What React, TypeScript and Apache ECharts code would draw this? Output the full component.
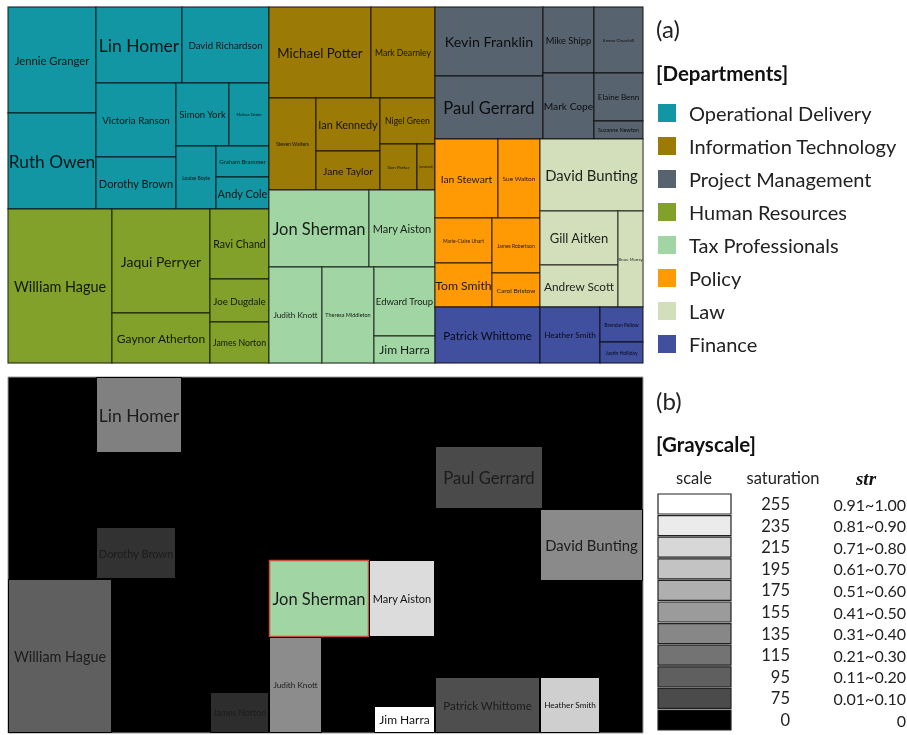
import React, { useEffect, useRef } from "react";
import * as echarts from "echarts";

// ---------- data ----------
const departments = [
  "Operational Delivery",
  "Information Technology",
  "Project Management",
  "Human Resources",
  "Tax Professionals",
  "Policy",
  "Law",
  "Finance",
];
const departmentColors = ["#1396A3", "#9B7A05", "#57636E", "#81A12A", "#A1D5A3", "#FF9A05", "#D3DEBB", "#414F9F"];

// treemap cells: [name, x0, y0, x1, y1] in treemap units
const operationalDelivery: [string, number, number, number, number][] = [
  ["Jennie Granger", 8, 7, 96, 113],
  ["Ruth Owen", 8, 113, 96, 209],
  ["Lin Homer", 96, 7, 182, 83],
  ["David Richardson", 182, 7, 269, 83],
  ["Victoria Ranson", 96, 83, 176, 157],
  ["Dorothy Brown", 96, 157, 176, 209],
  ["Simon York", 176, 83, 229, 146],
  ["Melissa Tatton", 229, 83, 269, 146],
  ["Louise Boyle", 176, 146, 216, 209],
  ["Graham Brammer", 216, 146, 269, 177],
  ["Andy Cole", 216, 177, 269, 209],
];
const informationTechnology: [string, number, number, number, number][] = [
  ["Michael Potter", 269, 7, 371, 98],
  ["Mark Dearnley", 371, 7, 435, 98],
  ["Steven Walters", 269, 98, 316, 190],
  ["Ian Kennedy", 316, 98, 380, 151],
  ["Jane Taylor", 316, 151, 380, 190],
  ["Nigel Green", 380, 98, 435, 144],
  ["Sam Parker", 380, 144, 417, 190],
  ["(unnamed)", 417, 144, 435, 190],
];
const projectManagement: [string, number, number, number, number][] = [
  ["Kevin Franklin", 435, 7, 543, 76],
  ["Paul Gerrard", 435, 76, 543, 139],
  ["Mike Shipp", 543, 7, 594, 73],
  ["Mark Cope", 543, 73, 594, 139],
  ["Emma Churchill", 594, 7, 643, 73],
  ["Elaine Benn", 594, 73, 643, 121],
  ["Suzanne Newton", 594, 121, 643, 139],
];
const humanResources: [string, number, number, number, number][] = [
  ["William Hague", 8, 209, 112, 363],
  ["Jaqui Perryer", 112, 209, 210, 313],
  ["Gaynor Atherton", 112, 313, 210, 363],
  ["Ravi Chand", 210, 209, 269, 279],
  ["Joe Dugdale", 210, 279, 269, 322],
  ["James Norton", 210, 322, 269, 363],
];
const taxProfessionals: [string, number, number, number, number][] = [
  ["Jon Sherman", 269, 190, 369, 267],
  ["Mary Aiston", 369, 190, 435, 267],
  ["Judith Knott", 269, 267, 322, 363],
  ["Theresa Middleton", 322, 267, 374, 363],
  ["Edward Troup", 374, 267, 435, 336],
  ["Jim Harra", 374, 336, 435, 363],
];
const policy: [string, number, number, number, number][] = [
  ["Ian Stewart", 435, 139, 498, 218],
  ["Sue Walton", 498, 139, 540, 218],
  ["Marie-Claire Uhart", 435, 218, 492, 263],
  ["Tom Smith", 435, 263, 492, 307],
  ["James Robertson", 492, 218, 540, 273],
  ["Carol Bristow", 492, 273, 540, 307],
];
const law: [string, number, number, number, number][] = [
  ["David Bunting", 540, 139, 643, 211],
  ["Gill Aitken", 540, 211, 618, 265],
  ["Andrew Scott", 540, 265, 618, 307],
  ["Bruce Murray", 618, 211, 643, 307],
];
const finance: [string, number, number, number, number][] = [
  ["Patrick Whittome", 435, 307, 540, 363],
  ["Heather Smith", 540, 307, 600, 363],
  ["Brendan Pellow", 600, 307, 643, 342],
  ["Justin Holliday", 600, 342, 643, 363],
];
const cellsByDepartment = [
  operationalDelivery,
  informationTechnology,
  projectManagement,
  humanResources,
  taxProfessionals,
  policy,
  law,
  finance,
];

// panel (b): grayscale saturation of related people
const grayNames = [
  "Lin Homer",
  "Dorothy Brown",
  "William Hague",
  "James Norton",
  "Judith Knott",
  "Mary Aiston",
  "Jim Harra",
  "Paul Gerrard",
  "David Bunting",
  "Patrick Whittome",
  "Heather Smith",
];
const grayValues = [128, 50, 95, 45, 140, 220, 255, 74, 138, 78, 207];
const selectedName = "Jon Sherman";

const saturationLevels = [255, 235, 215, 195, 175, 155, 135, 115, 95, 75, 0];
const strRanges = [
  "0.91~1.00",
  "0.81~0.90",
  "0.71~0.80",
  "0.61~0.70",
  "0.51~0.60",
  "0.41~0.50",
  "0.31~0.40",
  "0.21~0.30",
  "0.11~0.20",
  "0.01~0.10",
  "0",
];

// ---------- styles ----------
const labelSize: Record<string, number> = {
  "Jennie Granger": 11.3, "Ruth Owen": 17.3, "Lin Homer": 17.5, "David Richardson": 9.7,
  "Victoria Ranson": 9.8, "Dorothy Brown": 11, "Simon York": 9.5, "Melissa Tatton": 4,
  "Louise Boyle": 5, "Graham Brammer": 6, "Andy Cole": 11,
  "Michael Potter": 13.3, "Mark Dearnley": 8.6, "Steven Walters": 5, "Ian Kennedy": 10.9,
  "Jane Taylor": 10.3, "Nigel Green": 8.6, "Sam Parker": 4.5, "(unnamed)": 3,
  "Kevin Franklin": 14.3, "Paul Gerrard": 16.6, "Mike Shipp": 9.3, "Mark Cope": 10.2,
  "Emma Churchill": 4.5, "Elaine Benn": 8, "Suzanne Newton": 5.5,
  "William Hague": 14.4, "Jaqui Perryer": 14, "Gaynor Atherton": 12, "Ravi Chand": 10.6,
  "Joe Dugdale": 9.7, "James Norton": 8.7,
  "Jon Sherman": 16.5, "Mary Aiston": 11, "Judith Knott": 8.2, "Theresa Middleton": 5.5,
  "Edward Troup": 9.5, "Jim Harra": 12,
  "Ian Stewart": 10.4, "Sue Walton": 6.5, "Marie-Claire Uhart": 5, "Tom Smith": 12.2,
  "James Robertson": 5, "Carol Bristow": 6.5,
  "David Bunting": 14.8, "Gill Aitken": 13, "Andrew Scott": 11.8, "Bruce Murray": 4,
  "Patrick Whittome": 11.5, "Heather Smith": 8.2, "Brendan Pellow": 5, "Justin Holliday": 5,
};
const FONT = "Lato, 'Open Sans', sans-serif";

export default function App() {
  const ref = useRef<HTMLDivElement>(null);

  useEffect(() => {
    const chart = echarts.init(ref.current!, undefined, { renderer: "svg" });

    const series: any[] = departments.map((dep, d) => {
      const cells = cellsByDepartment[d];
      return {
        type: "custom",
        name: dep,
        xAxisIndex: 0,
        yAxisIndex: 0,
        silent: true,
        itemStyle: { color: departmentColors[d] },
        encode: { x: [0, 2], y: [1, 3] },
        data: cells.map((c) => ({ name: c[0], value: [c[1], c[2], c[3], c[4]] })),
        renderItem: (params: any, api: any) => {
          const name = cells[params.dataIndex][0];
          const p0 = api.coord([api.value(0), api.value(1)]);
          const p1 = api.coord([api.value(2), api.value(3)]);
          return {
            type: "group",
            children: [
              {
                type: "rect",
                shape: { x: p0[0], y: p0[1], width: p1[0] - p0[0], height: p1[1] - p0[1] },
                style: { fill: departmentColors[d], stroke: "rgba(0,0,0,0.55)", lineWidth: 1.4 },
              },
              {
                type: "text",
                style: {
                  x: (p0[0] + p1[0]) / 2,
                  y: (p0[1] + p1[1]) / 2,
                  text: name,
                  align: "center",
                  verticalAlign: "middle",
                  fontSize: labelSize[name] ?? 10,
                  fontFamily: FONT,
                  fill: "rgba(0,0,0,0.86)",
                },
              },
            ],
          };
        },
      };
    });

    const grayOf: Record<string, number> = {};
    grayNames.forEach((n, i) => (grayOf[n] = grayValues[i]));
    const allCells = cellsByDepartment.flat();
    const bCells = allCells.filter((c) => grayOf[c[0]] !== undefined || c[0] === selectedName);
    const taxColor = departmentColors[departments.indexOf("Tax Professionals")];

    series.push({
      type: "custom",
      name: "grayscale",
      xAxisIndex: 1,
      yAxisIndex: 1,
      silent: true,
      encode: { x: [0, 2], y: [1, 3] },
      data: bCells.map((c) => ({ name: c[0], value: [c[1], c[2], c[3], c[4]] })),
      renderItem: (params: any, api: any) => {
        const name = bCells[params.dataIndex][0];
        const p0 = api.coord([api.value(0), api.value(1)]);
        const p1 = api.coord([api.value(2), api.value(3)]);
        const sel = name === selectedName;
        const v = grayOf[name] ?? 0;
        return {
          type: "group",
          children: [
            {
              type: "rect",
              shape: { x: p0[0] + 0.5, y: p0[1] + 0.5, width: p1[0] - p0[0] - 1, height: p1[1] - p0[1] - 1 },
              style: {
                fill: sel ? taxColor : `rgb(${v},${v},${v})`,
                stroke: sel ? "#C8503F" : "#000",
                lineWidth: sel ? 1.5 : 1,
              },
            },
            {
              type: "text",
              style: {
                x: (p0[0] + p1[0]) / 2,
                y: (p0[1] + p1[1]) / 2,
                text: name,
                align: "center",
                verticalAlign: "middle",
                fontSize: labelSize[name] ?? 10,
                fontFamily: FONT,
                fill: v > 200 ? "#111" : "#1c1c1c",
              },
            },
          ],
        };
      },
    });

    const graphics: any[] = [
      { type: "text", left: 656, top: 16, style: { text: "(a)", fontSize: 24, fontFamily: FONT, fill: "#222" } },
      { type: "text", left: 656, top: 62, style: { text: "[Departments]", fontSize: 20.5, fontWeight: "bold", fontFamily: FONT, fill: "#111" } },
      { type: "text", left: 656, top: 388, style: { text: "(b)", fontSize: 24, fontFamily: FONT, fill: "#222" } },
      { type: "text", left: 656, top: 433, style: { text: "[Grayscale]", fontSize: 20.5, fontWeight: "bold", fontFamily: FONT, fill: "#111" } },
      { type: "text", x: 694, y: 478, style: { text: "scale", fontSize: 16.5, fontFamily: FONT, fill: "#222", align: "center", verticalAlign: "middle" } },
      { type: "text", x: 783, y: 478, style: { text: "saturation", fontSize: 16.5, fontFamily: FONT, fill: "#222", align: "center", verticalAlign: "middle" } },
      { type: "text", x: 866, y: 478, style: { text: "str", fontSize: 19, fontWeight: "bold", fontStyle: "italic", fontFamily: "'Liberation Serif', 'DejaVu Serif', serif", fill: "#111", align: "center", verticalAlign: "middle" } },
    ];
    saturationLevels.forEach((v, i) => {
      const top = 494 + i * 21.6;
      graphics.push({
        type: "rect",
        shape: { x: 658, y: top, width: 73, height: 20 },
        style: { fill: `rgb(${v},${v},${v})`, stroke: "#222", lineWidth: 1.2 },
      });
      graphics.push({
        type: "text", x: 790, y: top + 10,
        style: { text: String(v), fontSize: 16.5, fontFamily: FONT, fill: "#222", align: "right", verticalAlign: "middle" },
      });
      graphics.push({
        type: "text", x: 906, y: top + 10,
        style: { text: strRanges[i], fontSize: 16, fontFamily: FONT, fill: "#222", align: "right", verticalAlign: "middle" },
      });
    });

    chart.setOption({
      animation: false,
      grid: [
        { left: 8, top: 7, width: 635, height: 356, show: true, borderColor: "#c4c4c4", borderWidth: 1, backgroundColor: "transparent" },
        { left: 8, top: 377, width: 635, height: 356, show: true, borderColor: "#9a9a9a", borderWidth: 1, backgroundColor: "#000" },
      ],
      xAxis: [
        { type: "value", gridIndex: 0, min: 8, max: 643, show: false },
        { type: "value", gridIndex: 1, min: 8, max: 643, show: false },
      ],
      yAxis: [
        { type: "value", gridIndex: 0, min: 7, max: 363, inverse: true, show: false },
        { type: "value", gridIndex: 1, min: 7, max: 363, inverse: true, show: false },
      ],
      legend: {
        data: departments.map((d, i) => ({ name: d, itemStyle: { color: departmentColors[i] } })),
        orient: "vertical",
        left: 658,
        top: 103,
        padding: 0,
        itemWidth: 18,
        itemHeight: 18,
        itemGap: 13,
        icon: "rect",
        selectedMode: false,
        textStyle: { fontSize: 20, fontFamily: FONT, color: "#222", lineHeight: 20, padding: [0, 0, 0, 8] },
      },
      graphic: graphics,
      series,
    });

    return () => chart.dispose();
  }, []);

  return <div ref={ref} style={{ position: "fixed", left: 0, top: 0, width: 907, height: 735 }} />;
}
